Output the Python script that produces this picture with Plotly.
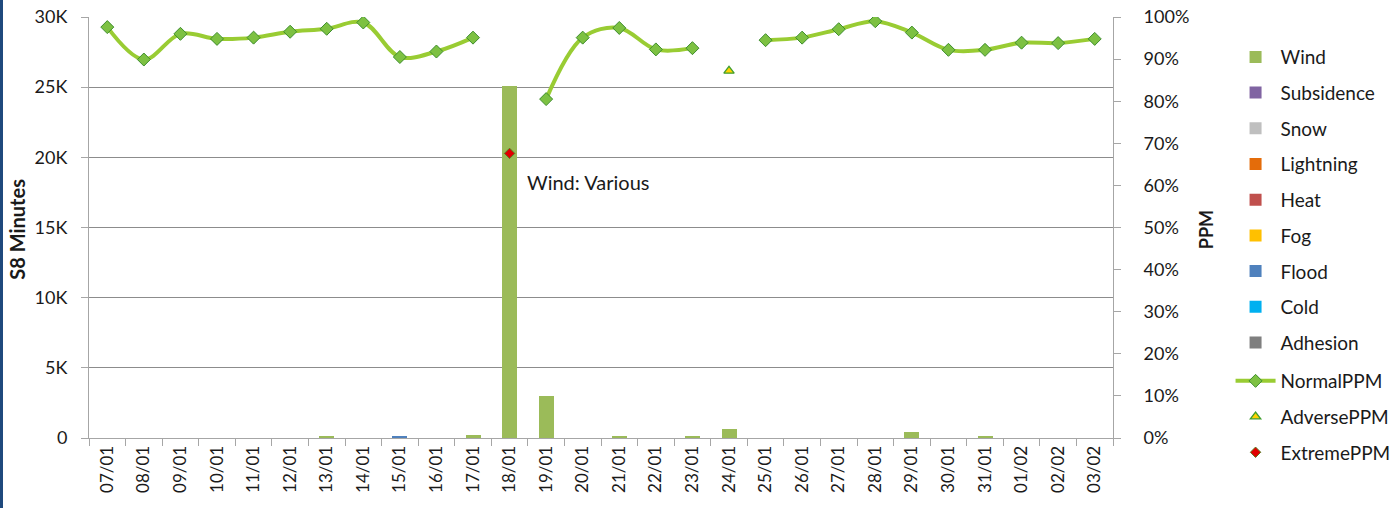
import plotly.graph_objects as go

dates = ["07/01","08/01","09/01","10/01","11/01","12/01","13/01","14/01","15/01","16/01",
         "17/01","18/01","19/01","20/01","21/01","22/01","23/01","24/01","25/01","26/01",
         "27/01","28/01","29/01","30/01","31/01","01/02","02/02","03/02"]

wind =       [0,0,0,0,0,0,130,0,0,0,220,25100,3000,0,120,0,100,650,0,0,0,0,420,0,100,0,0,0]
subsidence = [0]*28
snow =       [0]*28
lightning =  [0]*28
heat =       [0]*28
fog =        [0]*28
flood =      [0,0,0,0,0,0,0,0,120,0,0,0,0,0,0,0,0,0,0,0,0,0,0,0,0,0,0,0]
cold =       [0]*28
adhesion =   [0]*28

normal_ppm = [0.976,0.899,0.960,0.948,0.951,0.965,0.972,0.987,0.905,0.918,
              0.951,None,0.805,0.951,0.974,0.923,0.926,None,0.945,0.951,
              0.971,0.990,0.963,0.922,0.922,0.939,0.938,0.948]
adverse_ppm = [None]*17 + [0.872] + [None]*10
extreme_ppm = [None]*11 + [0.676] + [None]*16

bar_series = [
    ("Wind", wind, "#9BBB59"),
    ("Subsidence", subsidence, "#8064A2"),
    ("Snow", snow, "#BFBFBF"),
    ("Lightning", lightning, "#E46C0A"),
    ("Heat", heat, "#C0504D"),
    ("Fog", fog, "#FFC000"),
    ("Flood", flood, "#4F81BD"),
    ("Cold", cold, "#00B0F0"),
    ("Adhesion", adhesion, "#7F7F7F"),
]

FONT = "Lato"
TXT = "#1A1A1A"
fig = go.Figure()
for name, vals, col in bar_series:
    fig.add_trace(go.Bar(x=dates, y=vals, name=name, marker_color=col,
                         marker_line_width=0, legendgroup=name, legend="legend"))

fig.add_trace(go.Scatter(x=dates, y=normal_ppm, name="NormalPPM", yaxis="y2",
                         mode="lines+markers", line=dict(color="#99CC33", width=4, shape="spline", smoothing=1.0),
                         marker=dict(symbol="diamond", size=10, color="#7DC142", line=dict(color="#3E8E2E", width=1)),
                         connectgaps=False, legendgroup="NormalPPM", legend="legend2"))
fig.add_trace(go.Scatter(x=dates, y=adverse_ppm, name="AdversePPM", yaxis="y2", mode="markers",
                         marker=dict(symbol="triangle-up", size=9, color="#FFD200", line=dict(color="#3E9E2E", width=1.3)),
                         legendgroup="AdversePPM", legend="legend2"))
fig.add_trace(go.Scatter(x=dates, y=extreme_ppm, name="ExtremePPM", yaxis="y2", mode="markers",
                         marker=dict(symbol="diamond", size=8, color="#E00000", line=dict(color="#5A7A20", width=1)),
                         legendgroup="ExtremePPM", legend="legend2"))

fig.add_annotation(x="18/01", y=0.608, yref="y2", text="Wind: Various", showarrow=False,
                   xanchor="left", xshift=15, font=dict(family=FONT, size=20, color=TXT))

# axis titles
fig.add_annotation(x=-0.0698, y=0.496, xref="paper", yref="paper", text="<b>S8 Minutes</b>",
                   textangle=-90, showarrow=False, xanchor="center", yanchor="middle",
                   font=dict(family=FONT, size=20, color=TXT))
fig.add_annotation(x=1.0908, y=0.496, xref="paper", yref="paper", text="<b>PPM</b>",
                   textangle=-90, showarrow=False, xanchor="center", yanchor="middle",
                   font=dict(family=FONT, size=18, color=TXT))

fig.add_shape(type="line", xref="paper", yref="paper", xsizemode="pixel", ysizemode="pixel",
              xanchor=0, yanchor=0, x0=-87.5, x1=-87.5, y0=-80, y1=520,
              line=dict(color="#1F497D", width=3))

legend_common = dict(xanchor="left", yanchor="top", traceorder="grouped",
                     tracegroupgap=8, font=dict(family=FONT, size=19, color=TXT), itemwidth=40,
                     bgcolor="rgba(0,0,0,0)")

fig.update_layout(
    width=1399, height=508,
    margin=dict(l=89, r=286, t=17, b=70, autoexpand=False),
    paper_bgcolor="white", plot_bgcolor="white",
    barmode="stack", bargap=0.59,
    font=dict(family=FONT, size=18, color=TXT),
    showlegend=True,
    legend=dict(x=1.1148, y=0.950, **legend_common),
    legend2=dict(x=1.1148, y=0.1805, **legend_common),
    xaxis=dict(type="category", range=[-0.5, 27.5], tickangle=-90, showline=True,
               linecolor="#A6A6A6", linewidth=1,
               ticks="outside", ticklen=7, tickcolor="#A6A6A6", tickson="boundaries",
               showgrid=False, tickfont=dict(size=17), automargin=False),
    yaxis=dict(range=[0, 30000], tickvals=[0,5000,10000,15000,20000,25000,30000],
               ticktext=["0","5K","10K","15K","20K","25K","30K"], showline=True,
               linecolor="#A6A6A6", ticks="outside", ticklen=7, tickcolor="#A6A6A6",
               showgrid=True, gridcolor="#8C8C8C", gridwidth=1, zeroline=False,
               tickfont=dict(size=18), ticklabelstandoff=10, automargin=False),
    yaxis2=dict(range=[0, 1], overlaying="y", side="right", tickformat=".0%", dtick=0.1,
                showline=True, linecolor="#A6A6A6", ticks="outside", ticklen=7, tickcolor="#A6A6A6",
                showgrid=False, zeroline=False, tickfont=dict(size=18), ticklabelstandoff=19,
                automargin=False),
)

fig.write_html("out.html", config={"displayModeBar": False},
               post_script="document.body.style.margin='0px';")
